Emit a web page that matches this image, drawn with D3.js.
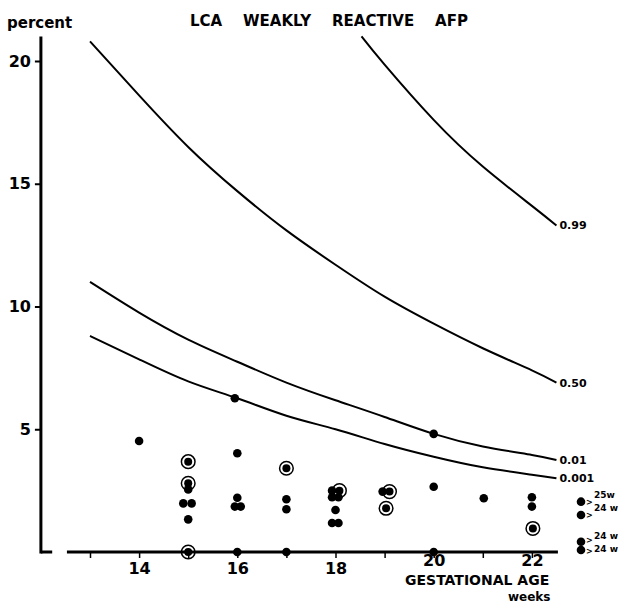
<!DOCTYPE html>
<html>
<head>
<meta charset="utf-8">
<script src="https://cdn.jsdelivr.net/npm/d3@7"></script>
<style>
  body { margin: 0; background: #fff; }
  svg text { font-family: "DejaVu Sans", sans-serif; font-weight: bold; fill: #000; }
</style>
</head>
<body>
<script>
// значения кривых (перцентили), читаем с картинки
const curveWeeks = [13, 14, 15, 16, 17, 18, 19, 20, 21, 22, 22.5];
const p50 = [20.8, 18.6, 16.5, 14.7, 13.1, 11.7, 10.4, 9.3, 8.3, 7.4, 6.9];
const p01 = [11.0, 9.75, 8.65, 7.75, 6.9, 6.18, 5.5, 4.81, 4.3, 3.95, 3.75];
const p001 = [8.8, 7.85, 6.95, 6.26, 5.55, 5.0, 4.4, 3.88, 3.45, 3.15, 3.0];
const p99Weeks = [18.53, 19, 20, 21, 22, 22.5];
const p99 = [21.0, 19.85, 17.6, 15.7, 14.1, 13.3];
const curveNames = ["0.99", "0.50", "0.01", "0.001"];

// точки: закрашенные
const dotWeek = [14, 15, 14.9, 15.07, 15, 15.95, 16, 16, 15.95, 16.07, 16,
                 17, 17, 17, 17.93, 17.93, 18.06, 18, 17.93, 18.06, 18.96,
                 20, 20, 20, 21.02, 22, 22];
const dotPct = [4.52, 2.55, 1.98, 1.98, 1.33, 6.26, 4.02, 2.21, 1.85, 1.85, 0,
                2.15, 1.74, 0, 2.5, 2.23, 2.23, 1.71, 1.18, 1.18, 2.46,
                4.81, 2.66, 0, 2.19, 2.23, 1.85];
// точки в кружке
const ringWeek = [15, 15, 15, 17, 18.08, 19.1, 19.03, 22.02];
const ringPct = [3.68, 2.8, 0, 3.41, 2.5, 2.46, 1.78, 0.96];
// справа: > 25w, > 24w
const noteWeek = [23, 23, 23, 23];
const notePct = [2.05, 1.51, 0.42, 0.08];
const noteText = ["25w", "24 w", "24 w", "24 w"];

const yTicks = [5, 10, 15, 20];
const xTicks = [13, 14, 15, 16, 17, 18, 19, 20, 21, 22];
const xLabels = [14, 16, 18, 20, 22];

const W = 621, H = 604;
const svg = d3.select("body").append("svg")
    .attr("width", W).attr("height", H);

const x = d3.scaleLinear().domain([12, 23]).range([40.9, 581]);
const y = d3.scaleLinear().domain([0, 20]).range([552, 61]);

// заголовок
svg.append("text")
    .attr("x", 190).attr("y", 26)
    .attr("font-size", 15)
    .style("white-space", "pre")
    .text("LCA    WEAKLY    REACTIVE    AFP");

svg.append("text")
    .attr("x", 7).attr("y", 28)
    .attr("font-size", 15)
    .text("percent");

// ось y
svg.append("line")
    .attr("x1", x(12)).attr("x2", x(12))
    .attr("y1", y(21)).attr("y2", y(0) + 1.5)
    .attr("stroke", "#000").attr("stroke-width", 3);

const yAxis = svg.append("g")
    .attr("transform", `translate(${x(12)},0)`)
    .call(d3.axisLeft(y).tickValues(yTicks).tickSize(6).tickPadding(4).tickFormat(d3.format("d")));
yAxis.select(".domain").remove();
yAxis.selectAll(".tick line").attr("stroke-width", 2);
yAxis.selectAll(".tick text").attr("font-size", 16).attr("font-family", null);

// ось x (с разрывом у начала)
svg.append("line")
    .attr("x1", x(12)).attr("x2", x(12.23))
    .attr("y1", y(0)).attr("y2", y(0))
    .attr("stroke", "#000").attr("stroke-width", 3);
svg.append("line")
    .attr("x1", x(12.53)).attr("x2", x(22.53))
    .attr("y1", y(0)).attr("y2", y(0))
    .attr("stroke", "#000").attr("stroke-width", 3);

const xAxis = svg.append("g")
    .attr("transform", `translate(0,${y(0)})`)
    .call(d3.axisBottom(x).tickValues(xTicks).tickSize(6).tickPadding(5)
        .tickFormat(d => xLabels.includes(d) ? d : ""));
xAxis.select(".domain").remove();
xAxis.selectAll(".tick line").attr("stroke-width", 1.5);
xAxis.selectAll(".tick text")
    .attr("font-size", 16)
    .attr("font-family", null)
    .attr("y", d => d >= 20 ? 3 : 11);   // 20 и 22 стоят выше, над подписью оси

svg.append("text")
    .attr("x", 405).attr("y", 585)
    .attr("font-size", 14)
    .text("GESTATIONAL AGE");
svg.append("text")
    .attr("x", 508).attr("y", 601)
    .attr("font-size", 12)
    .text("weeks");

// кривые
const line = d3.line()
    .x(d => x(d[0]))
    .y(d => y(d[1]))
    .curve(d3.curveNatural);

const curves = [
    d3.zip(p99Weeks, p99),
    d3.zip(curveWeeks, p50),
    d3.zip(curveWeeks, p01),
    d3.zip(curveWeeks, p001)
];

svg.selectAll("path.curve")
    .data(curves)
    .enter()
    .append("path")
    .attr("class", "curve")
    .attr("d", line)
    .attr("fill", "none")
    .attr("stroke", "#000")
    .attr("stroke-width", 2);

svg.selectAll("text.curve-label")
    .data(curves)
    .enter()
    .append("text")
    .attr("class", "curve-label")
    .attr("x", d => x(d[d.length - 1][0]) + 3)
    .attr("y", d => y(d[d.length - 1][1]) + 4)
    .attr("font-size", 11)
    .text((d, i) => curveNames[i]);

// точки
svg.selectAll("circle.dot")
    .data(d3.zip(dotWeek, dotPct))
    .enter()
    .append("circle")
    .attr("class", "dot")
    .attr("cx", d => x(d[0]))
    .attr("cy", d => y(d[1]))
    .attr("r", 4.3)
    .attr("fill", "#000");

const rings = svg.selectAll("g.ring")
    .data(d3.zip(ringWeek, ringPct))
    .enter()
    .append("g")
    .attr("class", "ring")
    .attr("transform", d => `translate(${x(d[0])},${y(d[1])})`);
rings.append("circle")
    .attr("r", 6.8)
    .attr("fill", "none")
    .attr("stroke", "#000")
    .attr("stroke-width", 1.5);
rings.append("circle")
    .attr("r", 4)
    .attr("fill", "#000");

// пометки > 25w / > 24w (внизу две строки тесно, как на оригинале)
const noteShift = [-3.5, -3.5, -3, 2];
const gtShift = [3.5, 3.5, 1, 3.5];
const notes = svg.selectAll("g.note")
    .data(d3.zip(noteWeek, notePct, noteText))
    .enter()
    .append("g")
    .attr("class", "note")
    .attr("transform", d => `translate(${x(d[0])},${y(d[1])})`);
notes.append("circle")
    .attr("r", 4.3)
    .attr("fill", "#000");
notes.append("text")
    .attr("x", 5)
    .attr("y", (d, i) => gtShift[i])
    .attr("font-size", 8)
    .text(">");
notes.append("text")
    .attr("x", 13)
    .attr("y", (d, i) => noteShift[i])
    .attr("font-size", 9)
    .text(d => d[2]);
</script>
</body>
</html>
